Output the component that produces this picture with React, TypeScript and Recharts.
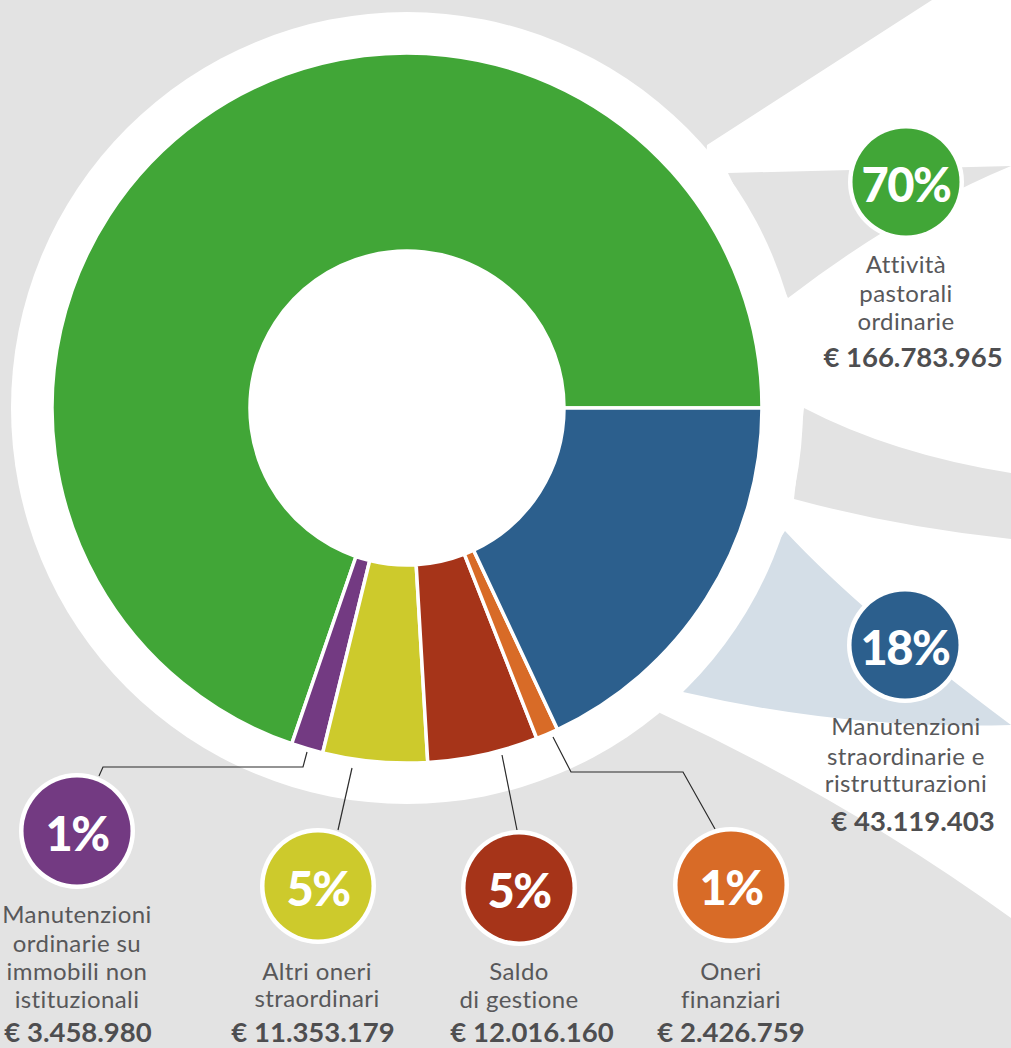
import React from 'react';
import { PieChart, Pie, Cell } from 'recharts';

// ---------- data ----------
const categories: string[] = [
  'Attività pastorali ordinarie',
  'Manutenzioni ordinarie su immobili non istituzionali',
  'Altri oneri straordinari',
  'Saldo di gestione',
  'Oneri finanziari',
  'Manutenzioni straordinarie e ristrutturazioni',
];
const amounts: number[] = [166783965, 3458980, 11353179, 12016160, 2426759, 43119403];
const labelLines: string[][] = [
  ['Attività', 'pastorali', 'ordinarie'],
  ['Manutenzioni', 'ordinarie su', 'immobili non', 'istituzionali'],
  ['Altri oneri', 'straordinari'],
  ['Saldo', 'di gestione'],
  ['Oneri', 'finanziari'],
  ['Manutenzioni', 'straordinarie e', 'ristrutturazioni'],
];
const colors: string[] = ['#41a637', '#733a82', '#cdca2c', '#a63419', '#d86b27', '#2c5f8d'];

const total = amounts.reduce((a, b) => a + b, 0);
const fmtEuro = (v: number) => '€ ' + String(v).replace(/\B(?=(\d{3})+(?!\d))/g, '.');
const chartData = categories.map((name, i) => ({
  name,
  value: amounts[i],
  pct: Math.round((amounts[i] / total) * 100) + '%',
  amount: fmtEuro(amounts[i]),
  lines: labelLines[i],
}));

// ---------- layout (annotation placement) ----------
type Layout = {
  cx: number; cy: number; tx: number; ty: number[]; ax: number; ay: number;
  leader: number[][] | null;
};
const LAYOUT: Layout[] = [
  { cx: 906, cy: 182, tx: 906, ty: [263, 292, 320], ax: 913, ay: 356, leader: null },
  { cx: 77, cy: 831, tx: 77, ty: [913, 942, 970, 998], ax: 78, ay: 1031, leader: [[307, 752], [303, 767], [103, 767], [99, 776]] },
  { cx: 318, cy: 886, tx: 317, ty: [970, 997], ax: 313, ay: 1031, leader: [[352, 768], [338, 830]] },
  { cx: 519, cy: 888, tx: 519, ty: [970, 998], ax: 532, ay: 1031, leader: [[502, 755], [517, 830]] },
  { cx: 731, cy: 885, tx: 731, ty: [970, 998], ax: 731, ay: 1031, leader: [[553, 737], [571, 772], [683, 772], [715, 829]] },
  { cx: 905, cy: 645, tx: 906, ty: [725, 755, 782], ax: 913, ay: 820, leader: null },
];

const FONT = 'Lato, "Open Sans", sans-serif';
const TEXT_GRAY = '#58585a';

const renderLabel = (props: any) => {
  const i = props.index as number;
  const L = LAYOUT[i];
  const d = chartData[i];
  return (
    <g key={'lbl-' + i}>
      {L.leader && (
        <polyline
          points={L.leader.map((p) => p.join(',')).join(' ')}
          fill="none"
          stroke="#2b2b2b"
          strokeWidth={1.2}
        />
      )}
      <circle cx={L.cx} cy={L.cy} r={58} fill="#ffffff" />
      <circle cx={L.cx} cy={L.cy} r={53.5} fill={colors[i]} />
      <text
        x={L.cx}
        y={L.cy + 2}
        textAnchor="middle"
        dominantBaseline="central"
        fill="#ffffff"
        fontFamily={FONT}
        fontWeight={900}
        fontSize={47}
        letterSpacing={-1.5}
      >
        {d.pct}
      </text>
      {d.lines.map((ln, k) => (
        <text
          key={k}
          x={L.tx}
          y={L.ty[k]}
          textAnchor="middle"
          dominantBaseline="central"
          fill={TEXT_GRAY}
          fontFamily={FONT}
          fontSize={24}
          letterSpacing={0.4}
        >
          {ln}
        </text>
      ))}
      <text
        x={L.ax}
        y={L.ay}
        textAnchor="middle"
        dominantBaseline="central"
        fill="#4e4e50"
        fontFamily={FONT}
        fontWeight={700}
        fontSize={27.5}
      >
        {d.amount}
      </text>
    </g>
  );
};

const Background = () => (
  <svg width={1011} height={1048} style={{ position: 'absolute', left: 0, top: 0 }}>
    <rect x={0} y={0} width={1011} height={1048} fill="#e3e3e3" />
    <path d="M 707 145 L 932 0 L 1011 0 L 1011 918 Q 848 800 660 713 Z" fill="#ffffff" />
    <path d="M 728 173 L 1011 166 Q 900 212 788 298 Z" fill="#e3e3e3" />
    <path d="M 804 408 Q 892 454 1011 473 L 1011 539 Q 897 527 794 499 Z" fill="#e3e3e3" />
    <path d="M 785 531 Q 862 614 1011 725 Q 847 730 683 692 Z" fill="#d4dee7" />
    <circle cx={407} cy={408} r={396} fill="#ffffff" />
  </svg>
);

export default function App() {
  return (
    <div style={{ position: 'absolute', left: 0, top: 0, width: 1011, height: 1048, overflow: 'hidden' }}>
      <Background />
      <div style={{ position: 'absolute', left: 0, top: 0 }}>
        <PieChart width={1011} height={1048} margin={{ top: 0, right: 0, bottom: 0, left: 0 }}>
          <Pie
            data={chartData}
            dataKey="value"
            nameKey="name"
            cx={407}
            cy={408}
            innerRadius={157}
            outerRadius={355}
            startAngle={0}
            endAngle={360}
            stroke="#ffffff"
            strokeWidth={3.5}
            label={renderLabel}
            labelLine={false}
            isAnimationActive={false}
          >
            {chartData.map((_, i) => (
              <Cell key={i} fill={colors[i]} />
            ))}
          </Pie>
        </PieChart>
      </div>
    </div>
  );
}
